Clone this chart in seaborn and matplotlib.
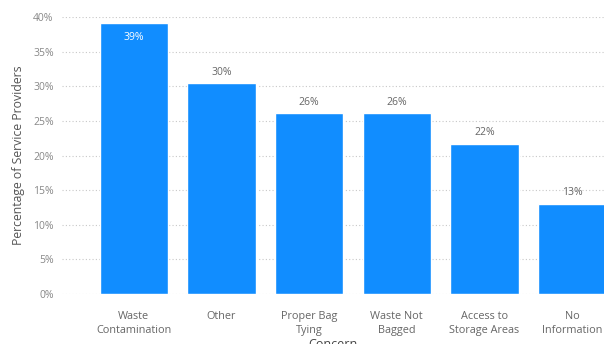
import matplotlib
matplotlib.use("Agg")
import matplotlib.pyplot as plt
import seaborn as sns
import pandas as pd

categories = ["Waste\nContamination", "Other", "Proper Bag\nTying", "Waste Not\nBagged",
              "Access to\nStorage Areas", "No\nInformation"]
values = [39.1, 30.4, 26.1, 26.1, 21.7, 13.0]
y_ticks = [0, 5, 10, 15, 20, 25, 30, 35, 40]

df = pd.DataFrame({"Concern": categories, "Share": values})

sns.set_theme(style="white")
plt.rcParams["font.family"] = ["Open Sans", "DejaVu Sans"]

bar_color = "#118DFF"
text_color = "#666666"

fig = plt.figure(figsize=(6.04, 3.44), dpi=100)
ax = fig.add_axes([62 / 604, 1 - 294 / 344, 1 - 62 / 604, (294 - 17) / 344])

sns.barplot(data=df, x="Concern", y="Share", color=bar_color, saturation=1,
            width=0.78, ax=ax, zorder=3)

ax.set_ylim(0, 40)
ax.set_xlim(-0.82, 5.365)
ax.set_yticks(y_ticks)
ax.set_yticklabels([f"{t}%" for t in y_ticks], fontsize=7.5, color="#888888")
ax.tick_params(axis="y", length=0, pad=6)
ax.tick_params(axis="x", length=0, pad=12, labelsize=7.8, labelcolor=text_color)
for lbl in ax.get_xticklabels():
    lbl.set_linespacing(1.45)

ax.yaxis.grid(True, linestyle=(0, (1, 2)), color="#C8C8C8", linewidth=0.8, zorder=0)
for s in ax.spines.values():
    s.set_visible(False)

ax.set_ylabel("Percentage of Service Providers", fontsize=8.8, color="#555555", labelpad=6)
ax.set_xlabel("Concern", fontsize=9, color="#444444", labelpad=1)

for i, v in enumerate(values):
    label = f"{round(v)}%"
    if v > 36:
        ax.text(i, v - 1.3, label, ha="center", va="top", fontsize=7.5, color="white", zorder=4)
    else:
        ax.text(i, v + 0.8, label, ha="center", va="bottom", fontsize=7.5, color=text_color, zorder=4)

fig.savefig("out.png", dpi=100)
